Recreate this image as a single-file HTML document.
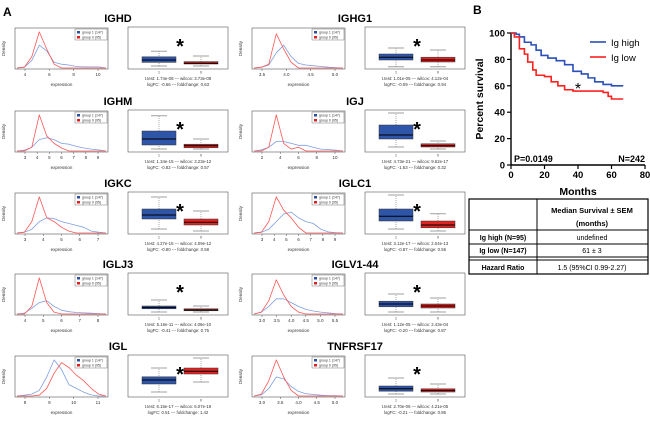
<!DOCTYPE html>
<html><head><meta charset="utf-8">
<style>
body{margin:0;background:#fff;}
svg{display:block;font-family:"Liberation Sans",Arial,sans-serif;}
</style></head>
<body>
<svg id="fig" width="650" height="425" viewBox="0 0 650 425">
<text x="3" y="16" font-size="12" font-weight="bold">A</text>
<text x="473" y="14" font-size="12" font-weight="bold">B</text>
<g id="panelA"></g>
<g id="panelB"></g>
<g id="table">
  <rect x="469" y="199" width="179" height="75" fill="none" stroke="#000" stroke-width="1.2"/>
  <line x1="537" y1="199" x2="537" y2="274" stroke="#000" stroke-width="1"/>
  <line x1="469" y1="230" x2="648" y2="230" stroke="#000" stroke-width="1"/>
  <line x1="469" y1="244" x2="648" y2="244" stroke="#000" stroke-width="1"/>
  <line x1="469" y1="257" x2="648" y2="257" stroke="#000" stroke-width="1"/>
  <line x1="469" y1="260" x2="648" y2="260" stroke="#000" stroke-width="1"/>
  <text x="592" y="213" font-size="7.5" font-weight="bold" text-anchor="middle">Median Survival ± SEM</text>
  <text x="592" y="226" font-size="7.5" font-weight="bold" text-anchor="middle">(months)</text>
  <text x="503" y="240" font-size="7" font-weight="bold" text-anchor="middle">Ig high (N=95)</text>
  <text x="592" y="240" font-size="7" text-anchor="middle">undefined</text>
  <text x="503" y="253" font-size="7" font-weight="bold" text-anchor="middle">Ig low (N=147)</text>
  <text x="592" y="253" font-size="7" text-anchor="middle">61 ± 3</text>
  <text x="503" y="270" font-size="7" font-weight="bold" text-anchor="middle">Hazard Ratio</text>
  <text x="592" y="270" font-size="7" text-anchor="middle">1.5 (95%CI 0.99-2.27)</text>
</g>
</svg>
<script>
const NS="http://www.w3.org/2000/svg";
function mk(tag,attrs,parent){const e=document.createElementNS(NS,tag);for(const k in attrs)e.setAttribute(k,attrs[k]);parent.appendChild(e);return e;}

// ---------- Panel A data ----------
const geneNames=["IGHD","IGHG1","IGHM","IGJ","IGKC","IGLC1","IGLJ3","IGLV1-44","IGL","TNFRSF17"];
const blueDensity=[
[0,.02,.2,.6,.45,.15,.1,.08,.04,.03,.03,.03,0],
[0,.02,.08,.4,.6,.3,.12,.08,.06,.04,.02,.01,0],
[0,.02,.1,.3,.35,.3,.2,.18,.12,.08,.05,.03,0],
[0,.03,.1,.25,.25,.2,.15,.15,.1,.05,.04,.02,0],
[0,.02,.1,.3,.4,.38,.3,.25,.2,.15,.05,.02,0],
[0,.02,.1,.3,.5,.55,.4,.3,.25,.1,.03,.01,0],
[0,.02,.15,.3,.35,.2,.1,.06,.04,.03,.02,.01,0],
[0,.05,.2,.4,.4,.3,.2,.12,.08,.05,.03,.01,0],
[0,.02,.05,.15,.5,.95,.7,.3,.2,.1,.03,0,0],
[0,.03,.2,.5,.45,.25,.12,.06,.04,.02,.01,.01,0]];
const redDensity=[
[0,.02,.3,.95,.5,.1,0,0,0,0,0,0,0],
[0,.02,.1,.9,.5,.15,0,0,0,0,0,0,0],
[0,0,.1,.95,.4,.2,.08,0,0,0,0,0,0],
[0,0,.1,.95,.2,.05,.1,0,0,0,0,0,0],
[0,.02,.3,.95,.4,.3,.15,.05,0,0,0,0,0],
[0,.02,.3,.95,.6,.4,.15,0,0,0,0,0,0],
[0,0,.2,.95,.3,.05,0,0,0,0,0,0,0],
[0,.05,.35,.9,.5,.2,.05,0,0,0,0,0,0],
[0,0,0,.02,.2,.6,.88,.75,.55,.4,.2,.05,0],
[0,.05,.4,.95,.5,.15,0,0,0,0,0,0,0]];
const blueBox=[[.05,.14,.2,.28,.42],[.03,.2,.27,.35,.5],[.05,.15,.3,.5,.88],[.1,.3,.4,.65,.95],[.1,.35,.45,.6,.9],[.1,.3,.42,.6,.95],[.05,.13,.16,.2,.35],[.05,.18,.25,.32,.5],[.1,.3,.4,.48,.7],[.05,.12,.18,.25,.45]];
const redBox=[[.05,.1,.12,.16,.3],[.03,.15,.2,.27,.45],[.05,.08,.13,.17,.3],[.05,.1,.13,.18,.25],[.05,.2,.27,.35,.55],[.05,.13,.2,.3,.48],[.05,.08,.1,.13,.2],[.05,.15,.2,.25,.4],[.35,.55,.62,.7,.95],[.05,.1,.14,.18,.3]];
const xTicks=[["4","6","8","10"],["3.5","4.0","4.5","5.0"],["3","4","5","6","7","8","9"],["2","4","6","8","10"],["3","4","5","6","7"],["3","4","5","6","7","8","9"],["4","5","6","7","8"],["3.0","3.5","4.0","4.5","5.0","5.5"],["8","9","10","11"],["3.0","3.5","4.0","4.5","5.0"]];
const statLine1=["t.test: 1.74e-08 --- wilcox: 3.73e-08","t.test: 1.01e-05 --- wilcox: 4.12e-04","t.test: 1.34e-15 --- wilcox: 3.23e-12","t.test: 4.73e-21 --- wilcox: 9.62e-17","t.test: 4.27e-15 --- wilcox: 4.09e-12","t.test: 3.12e-17 --- wilcox: 2.04e-13","t.test: 5.16e-11 --- wilcox: 4.06e-10","t.test: 1.12e-05 --- wilcox: 2.43e-04","t.test: 6.15e-17 --- wilcox: 6.07e-19","t.test: 2.70e-06 --- wilcox: 4.21e-05"];
const statLine2=["logFC: -0.66 --- foldchange: 0.63","logFC: -0.09 --- foldchange: 0.94","logFC: -0.82 --- foldchange: 0.57","logFC: -1.63 --- foldchange: 0.32","logFC: -0.80 --- foldchange: 0.58","logFC: -0.87 --- foldchange: 0.55","logFC: -0.41 --- foldchange: 0.75","logFC: -0.20 --- foldchange: 0.87","logFC: 0.51 --- foldchange: 1.42","logFC: -0.21 --- foldchange: 0.86"];
const rowTitleY=[17,100,182,263,345];

const A=document.getElementById('panelA');
geneNames.forEach((g,i)=>{
  const c=i%2, r=Math.floor(i/2), X=c*237, T=rowTitleY[r];
  const grp=mk('g',{},A);
  
  
  const t=mk('text',{x:X+118,y:T+5,'font-size':11,'font-weight':'bold','text-anchor':'middle'},grp);
  t.textContent=g;
  
  
  const dx0=X+15,dx1=X+108,dy0=T+11,dy1=T+52;
  const fr=mk('rect',{x:dx0,y:dy0,width:dx1-dx0,height:dy1-dy0,fill:'none',stroke:'#555','stroke-width':0.6},grp);
  
  
  const xs=v=>dx0+2+v*(dx1-dx0-4), ys=v=>dy1-1-v*(dy1-dy0-3);
  [[blueDensity[i],'#7f9fdf'],[redDensity[i],'#ff5555']].forEach(([arr,col],k)=>{
    const pts=arr.map((v,j)=>xs(j/(arr.length-1)).toFixed(1)+','+ys(v).toFixed(1)).join(' ');
    const pl=mk('polyline',{points:pts,fill:'none',stroke:col,'stroke-width':0.8,'stroke-linejoin':'round'},grp);
    
    
  });
  xTicks[i].forEach((lab,j)=>{
    const tx=dx0+10+j*(dx1-dx0-20)/Math.max(1,xTicks[i].length-1);
    mk('line',{x1:tx,y1:dy1,x2:tx,y2:dy1+2,stroke:'#555','stroke-width':0.5},grp);
    const tt=mk('text',{x:tx,y:dy1+7,'font-size':4.5,'text-anchor':'middle',fill:'#333'},grp);
    tt.textContent=lab;
    
    
  });
  const xl=mk('text',{x:(dx0+dx1)/2,y:T+69,'font-size':4.5,'text-anchor':'middle',fill:'#333'},grp);
  xl.textContent='expression';
  
  
  const yl=mk('text',{x:0,y:0,'font-size':4.5,'text-anchor':'middle',fill:'#333',transform:`translate(${X+5},${(dy0+dy1)/2}) rotate(-90)`},grp);
  yl.textContent='Density';
  
  
  const lg=mk('g',{},grp);
  
  
  mk('rect',{x:dx1-33,y:dy0+1,width:32,height:11,fill:'#fff',stroke:'#555','stroke-width':0.4},lg);
  mk('rect',{x:dx1-31,y:dy0+3,width:3,height:2.5,fill:'#2d4fa0'},lg);
  mk('rect',{x:dx1-31,y:dy0+8,width:3,height:2.5,fill:'#e02020'},lg);
  const l1=mk('text',{x:dx1-26,y:dy0+5.5,'font-size':3.5,fill:'#333'},lg);l1.textContent='group 1 (147)';
  const l2=mk('text',{x:dx1-26,y:dy0+10.5,'font-size':3.5,fill:'#333'},lg);l2.textContent='group 0 (95)';
  const bx0=X+128,bx1=X+228,by0=T+10,by1=T+52;
  const bf=mk('rect',{x:bx0,y:by0,width:bx1-bx0,height:by1-by0,fill:'none',stroke:'#555','stroke-width':0.6},grp);
  
  
  const byS=v=>by1-1-v*(by1-by0-2);
  [[blueBox[i],X+159,'#2f55a8'],[redBox[i],X+201,'#e02424']].forEach(([b,cx,col],k)=>{
    const w=34;
    mk('line',{x1:cx,y1:byS(b[0]),x2:cx,y2:byS(b[4]),stroke:'#555','stroke-width':0.5,'stroke-dasharray':'1,1'},grp);
    mk('line',{x1:cx-8,y1:byS(b[0]),x2:cx+8,y2:byS(b[0]),stroke:'#888','stroke-width':0.8},grp);
    mk('line',{x1:cx-8,y1:byS(b[4]),x2:cx+8,y2:byS(b[4]),stroke:'#888','stroke-width':0.8},grp);
    const bb=mk('rect',{x:cx-w/2,y:byS(b[3]),width:w,height:Math.max(1,byS(b[1])-byS(b[3])),fill:col,stroke:'#333','stroke-width':0.5},grp);
    
    
    mk('line',{x1:cx-w/2,y1:byS(b[2]),x2:cx+w/2,y2:byS(b[2]),stroke:'#000','stroke-width':1},grp);
    const tl=mk('text',{x:cx,y:by1+4.5,'font-size':3.5,'text-anchor':'middle',fill:'#333'},grp);
    tl.textContent=k?'0':'1';
  });
  const st=mk('text',{x:X+180,y:T+36,'font-size':20,'font-weight':'bold','text-anchor':'middle'},grp);
  st.textContent='*';
  
  
  const s1=mk('text',{x:X+178,y:T+63,'font-size':4.3,'text-anchor':'middle',fill:'#333'},grp);
  s1.textContent=statLine1[i];
  
  
  const s2=mk('text',{x:X+178,y:T+69,'font-size':4.3,'text-anchor':'middle',fill:'#333'},grp);
  s2.textContent=statLine2[i];
  
  
});

// ---------- Panel B data ----------
const highMonths=[0,3,5,8,12,15,18,22,27,32,37,42,46,50,55,60,67];
const highSurv=[100,99,97,93,91,87,83,81,79,76,71,69,66,63,61,60,60];
const lowMonths=[0,2,5,8,10,13,15,20,24,28,32,37,45,55,58,60,67];
const lowSurv=[100,97,88,84,78,72,68,67,63,60,57,56,56,55,52,50,50];
const xTickVals=[0,20,40,60,80];
const yTickVals=[0,20,40,60,80,100];

const B=document.getElementById('panelB');
const px=m=>511+m*(645-511)/80, py=s=>165-s*(165-33)/100;
mk('line',{x1:511,y1:33,x2:511,y2:165,stroke:'#000','stroke-width':1.4},B);
mk('line',{x1:511,y1:165,x2:645,y2:165,stroke:'#000','stroke-width':1.4},B);
yTickVals.forEach(v=>{
  mk('line',{x1:507,y1:py(v),x2:511,y2:py(v),stroke:'#000','stroke-width':1.2},B);
  const t=mk('text',{x:505,y:py(v)+3.5,'font-size':9.5,'font-weight':'bold','text-anchor':'end'},B);
  t.textContent=v;
  
  
});
xTickVals.forEach(v=>{
  mk('line',{x1:px(v),y1:165,x2:px(v),y2:169,stroke:'#000','stroke-width':1.2},B);
  const t=mk('text',{x:px(v),y:178,'font-size':9.5,'font-weight':'bold','text-anchor':'middle'},B);
  t.textContent=v;
  
  
});
function stepPath(ms,ss){let d=`M${px(ms[0])},${py(ss[0])}`;for(let k=1;k<ms.length;k++){d+=` H${px(ms[k])} V${py(ss[k])}`;}return d;}
const hp=mk('path',{d:stepPath(highMonths,highSurv),fill:'none',stroke:'#2b4fb8','stroke-width':1.6},B);


const lp=mk('path',{d:stepPath(lowMonths,lowSurv),fill:'none',stroke:'#ff2020','stroke-width':1.6},B);


const yt=mk('text',{x:0,y:0,'font-size':10.5,'font-weight':'bold','text-anchor':'middle',transform:'translate(483,99) rotate(-90)'},B);
yt.textContent='Percent survival';


const xt=mk('text',{x:578,y:195,'font-size':10.5,'font-weight':'bold','text-anchor':'middle'},B);
xt.textContent='Months';


const leg=mk('g',{},B);


mk('line',{x1:590,y1:42,x2:606,y2:42,stroke:'#2b4fb8','stroke-width':1.6},leg);
mk('line',{x1:590,y1:57,x2:606,y2:57,stroke:'#ff2020','stroke-width':1.6},leg);
const lt1=mk('text',{x:611,y:46,'font-size':9.5},leg);lt1.textContent='Ig high';
const lt2=mk('text',{x:611,y:61,'font-size':9.5},leg);lt2.textContent='Ig low';
const bs=mk('text',{x:578,y:94,'font-size':16,'text-anchor':'middle'},B);bs.textContent='*';


const pv=mk('text',{x:514,y:162,'font-size':9,'font-weight':'bold'},B);pv.textContent='P=0.0149';


const nv=mk('text',{x:645,y:162,'font-size':9,'font-weight':'bold','text-anchor':'end'},B);nv.textContent='N=242';


</script>
</body></html>
